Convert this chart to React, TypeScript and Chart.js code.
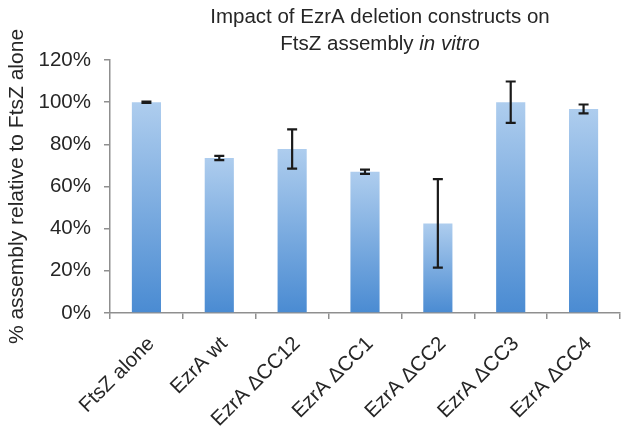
import React, { useEffect, useRef } from 'react';
import { Chart, registerables } from 'chart.js';

Chart.register(...registerables);

const categories = ['FtsZ alone', 'EzrA wt', 'EzrA ΔCC12', 'EzrA ΔCC1', 'EzrA ΔCC2', 'EzrA ΔCC3', 'EzrA ΔCC4'];
const assembly = [100, 73.5, 77.8, 67, 42.5, 100, 96.8];
const errors = [0.3, 1, 9.3, 1, 21, 9.8, 2.1];
const yTicks = [0, 20, 40, 60, 80, 100, 120];
const titleLine1 = 'Impact of EzrA deletion constructs on';
const titleLine2a = 'FtsZ assembly ';
const titleLine2b = 'in vitro';
const yTitle = '% assembly relative to FtsZ alone';

const FONT = "'Liberation Sans', Arial, sans-serif";
const TEXT = '#262626';
const AXIS = '#8f8f8f';

const titlePlugin = {
  id: 'twoLineTitle',
  afterDraw(chart: any) {
    const { ctx, chartArea } = chart;
    const cx = (chartArea.left + chartArea.right) / 2 + 15;
    ctx.save();
    ctx.fillStyle = TEXT;
    ctx.textBaseline = 'alphabetic';
    ctx.textAlign = 'center';
    ctx.font = `20.5px ${FONT}`;
    ctx.fillText(titleLine1, cx, 23);
    const wa = ctx.measureText(titleLine2a).width;
    ctx.font = `italic 20.5px ${FONT}`;
    const wb = ctx.measureText(titleLine2b).width;
    const start = cx - (wa + wb) / 2;
    ctx.textAlign = 'left';
    ctx.font = `20.5px ${FONT}`;
    ctx.fillText(titleLine2a, start, 50);
    ctx.font = `italic 20.5px ${FONT}`;
    ctx.fillText(titleLine2b, start + wa, 50);
    ctx.restore();
  },
};

const errorBarPlugin = {
  id: 'errorBars',
  afterDatasetsDraw(chart: any) {
    const meta = chart.getDatasetMeta(0);
    const y = chart.scales.y;
    const ctx = chart.ctx;
    ctx.save();
    ctx.strokeStyle = '#1a1a1a';
    ctx.lineWidth = 2.2;
    meta.data.forEach((bar: any, i: number) => {
      const v = assembly[i];
      const e = errors[i];
      const yt = y.getPixelForValue(v + e);
      const yb = y.getPixelForValue(v - e);
      const x = bar.x;
      const hw = 5;
      ctx.beginPath();
      ctx.moveTo(x, yt);
      ctx.lineTo(x, yb);
      ctx.moveTo(x - hw, yt);
      ctx.lineTo(x + hw, yt);
      ctx.moveTo(x - hw, yb);
      ctx.lineTo(x + hw, yb);
      ctx.stroke();
    });
    ctx.restore();
  },
};

export default function App() {
  const ref = useRef<HTMLCanvasElement>(null);
  useEffect(() => {
    if (!ref.current) return;
    const chart = new Chart(ref.current, {
      type: 'bar',
      data: {
        labels: categories,
        datasets: [
          {
            data: assembly,
            barPercentage: 0.4,
            categoryPercentage: 1,
            borderWidth: 0,
            backgroundColor: (c: any) => {
              const ch = c.chart;
              const area = ch.chartArea;
              if (!area || c.parsed == null) return '#7aaee0';
              const ys = ch.scales.y;
              const top = ys.getPixelForValue(c.parsed.y);
              const bottom = ys.getPixelForValue(0);
              if (!isFinite(top) || !isFinite(bottom) || top === bottom) return '#7aaee0';
              const g = ch.ctx.createLinearGradient(0, top, 0, bottom);
              g.addColorStop(0, '#aecdee');
              g.addColorStop(1, '#4a8bd2');
              return g;
            },
          },
        ],
      },
      options: {
        responsive: false,
        animation: false,
        layout: { padding: { top: 60, right: 7, left: 0, bottom: 0 } },
        plugins: {
          legend: { display: false },
          tooltip: { enabled: false },
          title: { display: false },
        },
        scales: {
          x: {
            afterFit: (s: any) => {
              s.height = 119;
            },
            grid: {
              display: true,
              offset: true,
              drawOnChartArea: false,
              drawTicks: true,
              tickLength: 6,
              color: AXIS,
              lineWidth: 1.5,
            },
            border: { color: AXIS, width: 1.5 },
            ticks: {
              minRotation: 45,
              maxRotation: 45,
              autoSkip: false,
              padding: 13,
              labelOffset: 5,
              color: TEXT,
              font: { family: FONT, size: 20.5 },
            },
          },
          y: {
            min: 0,
            max: 120,
            afterFit: (s: any) => {
              s.width = 110;
            },
            afterBuildTicks: (s: any) => {
              s.ticks = yTicks.map((v) => ({ value: v }));
            },
            grid: {
              display: true,
              drawOnChartArea: false,
              drawTicks: true,
              tickLength: 6,
              color: AXIS,
              lineWidth: 1.5,
            },
            border: { color: AXIS, width: 1.5 },
            ticks: {
              padding: 13,
              color: TEXT,
              font: { family: FONT, size: 20.5 },
              callback: (v: any) => `${v}%`,
            },
            title: {
              display: true,
              text: yTitle,
              color: TEXT,
              font: { family: FONT, size: 21 },
              padding: { top: 5, bottom: 0 },
            },
          },
        },
      },
      plugins: [titlePlugin, errorBarPlugin],
    } as any);
    return () => chart.destroy();
  }, []);
  return (
    <div style={{ position: 'fixed', left: 0, top: 0, width: 627, height: 432, background: '#fff' }}>
      <canvas ref={ref} width={627} height={432} style={{ display: 'block' }} />
    </div>
  );
}
